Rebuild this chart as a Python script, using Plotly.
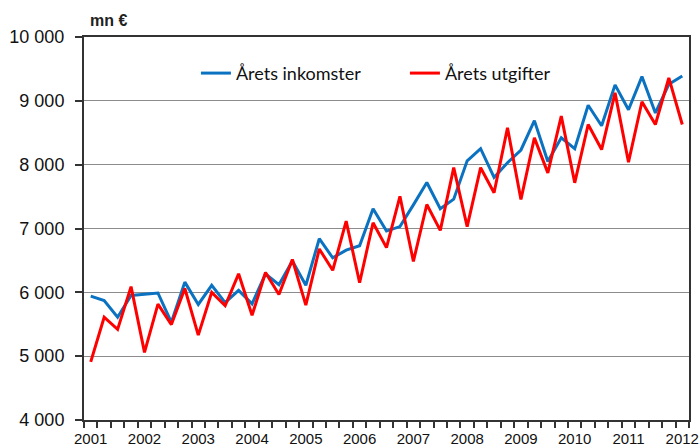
import plotly.graph_objects as go

quarters = [f"{y} Q{q}" for y in range(2001, 2013) for q in range(1, 5)][:45]

inkomster = [5940, 5870, 5610, 5950, 5970, 5990, 5530, 6160, 5810, 6110,
             5840, 6030, 5820, 6290, 6120, 6490, 6110, 6840, 6540, 6660,
             6730, 7310, 6960, 7030, 7370, 7720, 7310, 7460, 8060, 8250,
             7800, 8030, 8230, 8690, 8050, 8420, 8250, 8930, 8610, 9250,
             8860, 9380, 8810, 9260, 9390]

utgifter = [4910, 5610, 5420, 6090, 5060, 5815, 5495, 6060, 5330, 6000,
            5790, 6290, 5640, 6310, 5965, 6515, 5800, 6680, 6345, 7115,
            6150, 7090, 6700, 7505, 6485, 7376, 6970, 7953, 7030, 7953,
            7560, 8577, 7454, 8420, 7872, 8760, 7716, 8629, 8237, 9125,
            8039, 8985, 8629, 9360, 8629]

series_names = ["Årets inkomster", "Årets utgifter"]
y_ticks = [4000, 5000, 6000, 7000, 8000, 9000, 10000]
y_tick_text = ["4 000", "5 000", "6 000", "7 000", "8 000", "9 000", "10 000"]
unit_label = "mn €"

x = list(range(len(quarters)))
year_pos = [i for i, q in enumerate(quarters) if q.endswith("Q1")]
year_text = [quarters[i][:4] for i in year_pos]
boundaries = [i - 0.5 for i in range(len(quarters) + 1)]

fig = go.Figure()
fig.add_trace(go.Scatter(x=x, y=inkomster, mode="lines", name=series_names[0],
                         line=dict(color="#0a72c0", width=3)))
fig.add_trace(go.Scatter(x=x, y=utgifter, mode="lines", name=series_names[1],
                         line=dict(color="#ff0000", width=3)))

axis_col = "#333333"
fig.update_layout(
    width=700, height=448,
    margin=dict(l=84, r=11, t=37, b=28),
    paper_bgcolor="white", plot_bgcolor="white",
    font=dict(family="Liberation Sans, Arial, sans-serif", color="#111111"),
    showlegend=True,
    legend=dict(orientation="h", x=0.185, y=0.905, xanchor="left", yanchor="middle",
                font=dict(family="Lato, sans-serif", size=18, color="#111111"),
                bgcolor="rgba(0,0,0,0)", entrywidth=164, entrywidthmode="pixels"),
    xaxis=dict(range=[-0.5, len(quarters) - 0.5], tickmode="array",
               tickvals=year_pos, ticktext=year_text, automargin=False,
               ticklabeloverflow="allow",
               ticks="outside", ticklen=4, tickcolor="rgba(0,0,0,0)",
               tickfont=dict(size=15),
               showgrid=False, zeroline=False,
               showline=True, linecolor=axis_col, linewidth=2, mirror=True,
               minor=dict(tickmode="array", tickvals=boundaries, ticks="outside",
                          ticklen=6, tickcolor=axis_col, tickwidth=1.5, showgrid=False)),
    yaxis=dict(range=[4000, 10000], tickmode="array", tickvals=y_ticks,
               ticktext=y_tick_text, ticks="outside", ticklen=7, automargin=False,
               ticklabeloverflow="allow",
               tickcolor=axis_col, tickwidth=1.5, tickfont=dict(size=18),
               ticklabelstandoff=7,
               showgrid=True, gridcolor="#8c8c8c", gridwidth=1, zeroline=False,
               showline=True, linecolor=axis_col, linewidth=2, mirror=True),
    annotations=[dict(text=f"<b>{unit_label}</b>", xref="paper", yref="paper",
                      x=0.006, y=1.0, xanchor="left", yanchor="bottom", yshift=6,
                      showarrow=False, font=dict(size=16, color="#222222"))],
)

fig.write_html("out.html", config={"displayModeBar": False},
               post_script="document.body.style.margin='0px';")
